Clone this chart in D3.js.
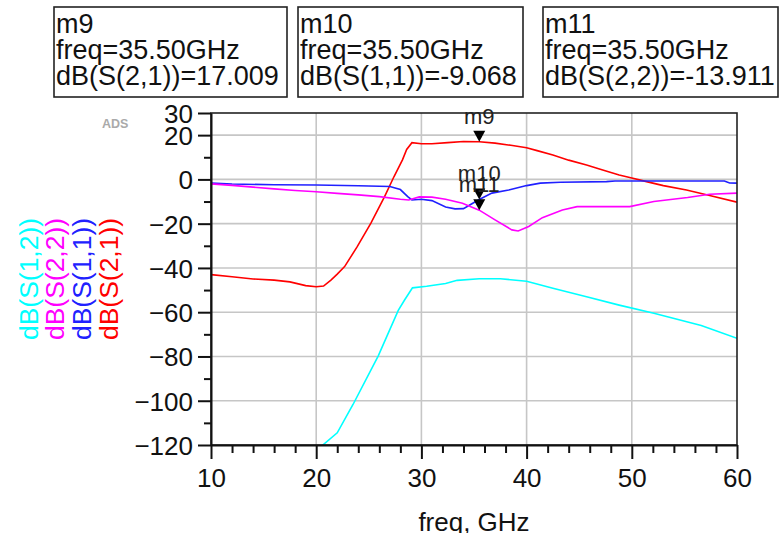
<!DOCTYPE html>
<html>
<head>
<meta charset="utf-8">
<script src="https://cdn.jsdelivr.net/npm/d3@7"></script>
<style>
  html, body { margin: 0; padding: 0; background: #fff; }
  svg { display: block; }
  text { font-family: "Liberation Sans", Arial, sans-serif; }
</style>
</head>
<body>
<svg id="chart" width="781" height="533"></svg>
<script>
// ---------------- data ----------------
const xTicks = [10, 20, 30, 40, 50, 60];
const yTicks = [30, 20, 0, -20, -40, -60, -80, -100, -120];
const yMinorTicks = [10, -10, -30, -50, -70, -90, -110];
const xMinorTicks = [12, 14, 16, 18, 22, 24, 26, 28, 32, 34, 36, 38, 42, 44, 46, 48, 52, 54, 56, 58];
const xTitle = "freq, GHz";

// dB(S(2,1)) - red
const s21Freq = [10, 12, 14, 16, 17.5, 19, 20, 20.7, 21.4, 22, 22.7, 23.9, 25.2, 26.5, 27.4, 28.2, 28.6, 29.1, 30, 31, 32.5, 34, 35.5, 37, 38.5, 40, 41, 42.5, 44, 45.7, 47, 48.8, 50, 51.4, 53, 55.2, 57.4, 60];
const s21Vals = [-43, -44, -45, -45.5, -46.3, -48, -48.5, -48.2, -45.5, -42.8, -39.4, -30.4, -19.8, -7.8, 1.3, 8.8, 13.5, 16.6, 16.1, 16.1, 16.6, 17.1, 17.0, 16.4, 15.4, 14.3, 13, 11, 8.7, 6.5, 4.6, 2, 0.6, -1, -2.8, -4.8, -7.3, -10.3];

// dB(S(1,1)) - blue
const s11Freq = [10, 12, 16, 20, 24, 27, 28, 28.7, 29.1, 30, 31, 32.3, 33.2, 34, 34.8, 35.5, 36.7, 38.3, 40, 41.3, 43.2, 47.6, 48.4, 58.8, 59.3, 60];
const s11Vals = [-1.7, -2.1, -2.4, -2.5, -2.9, -3.2, -4.6, -7.8, -9.3, -9.0, -9.6, -12.5, -13.3, -13.2, -11, -9.068, -6.2, -4.8, -2.8, -1.7, -1.3, -1.0, -0.7, -0.7, -1.6, -1.7];

// dB(S(2,2)) - magenta
const s22Freq = [10, 12, 14, 16, 18, 20, 22, 24, 26, 28, 28.8, 29.8, 31, 32.3, 33.9, 35.5, 37, 38.6, 39.2, 40.2, 41.5, 43.4, 44.8, 49.8, 52.1, 55.3, 57.4, 60];
const s22Vals = [-2, -2.7, -3.5, -4.3, -5, -5.6, -6.3, -7, -7.8, -9, -9.3, -7.9, -8, -9, -10.8, -13.911, -18.3, -22.8, -23.3, -21.3, -17.3, -13.8, -12.3, -12.3, -10, -8.2, -6.7, -6.2];

// dB(S(1,2)) - cyan
const s12Freq = [20.3, 20.63, 22, 23.5, 25.9, 27.8, 28.4, 29.15, 30.5, 32.3, 33.4, 35.5, 37.5, 40, 42.5, 45.7, 48.8, 52.1, 56.6, 60];
const s12Vals = [-122, -120, -114.5, -101.7, -79.7, -59.2, -54.5, -49, -48.3, -47, -45.6, -44.9, -44.9, -46, -49.2, -53, -56.8, -60.5, -66, -71.8];

const traceNames = ["dB(S(2,1))", "dB(S(1,1))", "dB(S(2,2))", "dB(S(1,2))"];
const traceColors = ["#ff0000", "#2020ff", "#ff00ff", "#00ffff"];

// markers
const markerNames = ["m9", "m10", "m11"];
const markerFreq = [35.5, 35.5, 35.5];
const markerVals = [17.009, -9.068, -13.911];
const markerTraces = ["dB(S(2,1))", "dB(S(1,1))", "dB(S(2,2))"];
const markerValText = ["17.009", "-9.068", "-13.911"];

// ---------------- layout ----------------
const svg = d3.select("#chart");
const L = 211, R = 737, T = 113, B = 445;
const x = d3.scaleLinear().domain([10, 60]).range([L, R]);
const y = d3.scaleLinear().domain([-120, 30]).range([B, T]);

// grid
const grid = svg.append("g").attr("stroke", "#c6c6c6").attr("stroke-width", 1.6);
grid.selectAll("line.v").data(xTicks.filter(d => d > 10 && d < 60)).join("line")
  .attr("x1", d => x(d)).attr("x2", d => x(d)).attr("y1", T).attr("y2", B);
grid.selectAll("line.h").data(yTicks.filter(d => d > -120 && d < 30)).join("line")
  .attr("x1", L).attr("x2", R).attr("y1", d => y(d)).attr("y2", d => y(d));

// clip
svg.append("clipPath").attr("id", "plotclip").append("rect")
  .attr("x", L).attr("y", T).attr("width", R - L).attr("height", B - T);

// traces
const series = [
  { f: s21Freq, v: s21Vals },
  { f: s11Freq, v: s11Vals },
  { f: s22Freq, v: s22Vals },
  { f: s12Freq, v: s12Vals }
];
const line = d3.line().x(d => x(d[0])).y(d => y(d[1]));
const traces = svg.append("g").attr("clip-path", "url(#plotclip)");
series.forEach((s, i) => {
  traces.append("path")
    .datum(s.f.map((f, j) => [f, s.v[j]]))
    .attr("fill", "none")
    .attr("stroke", traceColors[i])
    .attr("stroke-width", 1.6)
    .attr("d", line);
});

// frame
svg.append("rect").attr("x", L).attr("y", T).attr("width", R - L).attr("height", B - T)
  .attr("fill", "none").attr("stroke", "#222").attr("stroke-width", 1.6);

// y axis
const yAxis = svg.append("g").attr("transform", `translate(${L},0)`)
  .call(d3.axisLeft(y).tickValues(yTicks).tickSize(13).tickSizeOuter(0).tickPadding(5).tickFormat(d3.format("d")));
yAxis.select(".domain").attr("stroke", "#111").attr("stroke-width", 2);
yAxis.selectAll(".tick line").attr("stroke", "#111").attr("stroke-width", 2);
yAxis.selectAll("text").attr("font-size", 26).attr("fill", "#111").attr("dy", "0.36em")
  .attr("font-family", "'Liberation Sans', Arial, sans-serif");
svg.append("g").attr("transform", `translate(${L},0)`)
  .call(d3.axisLeft(y).tickValues(yMinorTicks).tickSize(7).tickSizeOuter(0).tickFormat(""))
  .call(g => g.select(".domain").remove())
  .call(g => g.selectAll("line").attr("stroke", "#111").attr("stroke-width", 2));

// x axis
const xAxis = svg.append("g").attr("transform", `translate(0,${B})`)
  .call(d3.axisBottom(x).tickValues(xTicks).tickSize(14).tickSizeOuter(0).tickFormat(d3.format("d")));
xAxis.select(".domain").attr("stroke", "#111").attr("stroke-width", 2);
xAxis.selectAll(".tick line").attr("stroke", "#111").attr("stroke-width", 2);
xAxis.selectAll("text").attr("font-size", 26).attr("fill", "#111").attr("y", 42).attr("dy", null)
  .attr("font-family", "'Liberation Sans', Arial, sans-serif");
svg.append("g").attr("transform", `translate(0,${B})`)
  .call(d3.axisBottom(x).tickValues(xMinorTicks).tickSize(8).tickSizeOuter(0).tickFormat(""))
  .call(g => g.select(".domain").remove())
  .call(g => g.selectAll("line").attr("stroke", "#111").attr("stroke-width", 2));

// x title
svg.append("text").attr("x", (L + R) / 2).attr("y", 531).attr("text-anchor", "middle")
  .attr("font-size", 26).attr("fill", "#111").text(xTitle);

// rotated legend (left), outermost first: S12, S22, S11, S21
const legendOrder = [3, 2, 1, 0];
legendOrder.forEach((ti, k) => {
  const bx = 37.5 + k * 26.7;
  svg.append("text")
    .attr("transform", `translate(${bx},${(T + B) / 2}) rotate(-90)`)
    .attr("text-anchor", "middle")
    .attr("font-size", 26.5)
    .attr("fill", traceColors[ti])
    .text(traceNames[ti]);
});

// ADS tag
svg.append("text").attr("x", 102).attr("y", 128).attr("font-size", 12.5)
  .attr("fill", "#aaa").attr("font-weight", "bold").text("ADS");

// markers
const mk = svg.append("g");
markerNames.forEach((n, i) => {
  const px = x(markerFreq[i]), py = y(markerVals[i]);
  mk.append("path")
    .attr("d", `M${px - 6},${py - 11}L${px + 6},${py - 11}L${px},${py}Z`)
    .attr("fill", "#000");
  mk.append("text").attr("x", px).attr("y", py - 18).attr("text-anchor", "middle")
    .attr("font-family", "'DejaVu Sans', Verdana, sans-serif")
    .attr("font-size", 22).attr("fill", "#222").text(n);
});

// marker readout boxes
const boxLeft = [54, 298, 543];
const boxRight = [287, 523, 778];
markerNames.forEach((n, i) => {
  const g = svg.append("g");
  g.append("rect").attr("x", boxLeft[i]).attr("y", 7)
    .attr("width", boxRight[i] - boxLeft[i]).attr("height", 90)
    .attr("fill", "#fff").attr("stroke", "#222").attr("stroke-width", 1.6);
  const lines = [n, "freq=" + markerFreq[i].toFixed(2) + "GHz", markerTraces[i] + "=" + markerValText[i]];
  lines.forEach((t, j) => {
    g.append("text").attr("x", boxLeft[i] + 2).attr("y", 33 + j * 26)
      .attr("font-size", 27).attr("fill", "#111").text(t);
  });
});
</script>
</body>
</html>
